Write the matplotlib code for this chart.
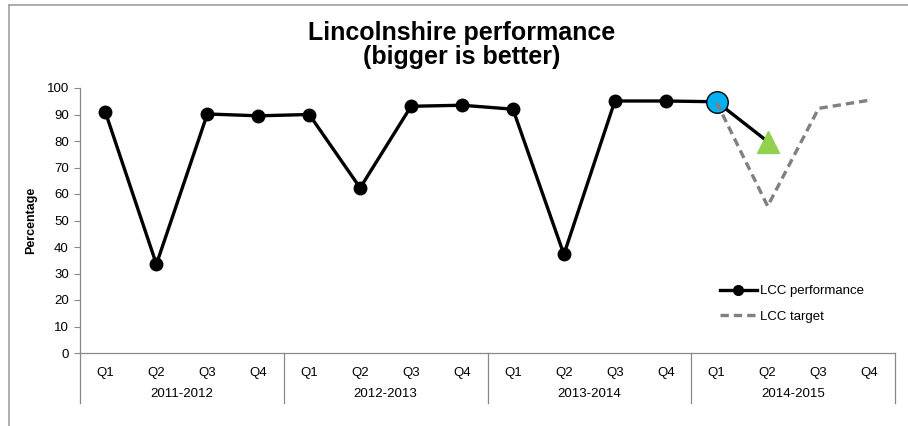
import matplotlib
matplotlib.use("Agg")
import matplotlib.pyplot as plt
from matplotlib.lines import Line2D

plt.rcParams['font.family'] = ['Liberation Sans', 'DejaVu Sans']

# data
years = ['2011-2012', '2012-2013', '2013-2014', '2014-2015']
quarters = ['Q1', 'Q2', 'Q3', 'Q4']
performance = [90.8, 33.5, 90.2, 89.5, 90.0, 62.3, 93.1, 93.5,
               92.0, 37.2, 95.1, 95.1, 94.8, 79.8]
target_start = 12  # target line begins at 2014-2015 Q1
target = [94.5, 55.4, 92.3, 95.4]

W, H = 908, 426
fig = plt.figure(figsize=(W / 100, H / 100), dpi=100)
ax = fig.add_axes([80 / W, (H - 353) / H, (895 - 80) / W, (353 - 88) / H])

ncat = len(years) * len(quarters)
xs = [i + 0.5 for i in range(ncat)]
dash = (0, (2.5, 1.5))

# performance line
perf_x = xs[:len(performance)]
ax.plot(perf_x, performance, color='black', lw=2.4, zorder=3, solid_joinstyle='round')
ax.plot(perf_x[:-2], performance[:-2], ls='none', marker='o', ms=9,
        color='black', zorder=4)
ax.plot(perf_x[-2], performance[-2], ls='none', marker='o', ms=15.5,
        mfc='#00B0F0', mec='black', mew=1.0, zorder=5)
ax.plot(perf_x[-1], performance[-1], ls='none', marker='^', ms=16,
        mfc='#92D050', mec='#92D050', zorder=5)

# target line
tx = xs[target_start:target_start + len(target)]
ax.plot(tx, target, color='#808080', lw=2.4, ls=dash, zorder=6)

ax.set_xlim(0, ncat)
ax.set_ylim(0, 100)
ax.set_yticks(range(0, 101, 10))
ax.tick_params(axis='y', length=4, width=0.8, color='#888888', labelsize=9.5, pad=4)
ax.set_xticks([])

for side in ['top', 'right']:
    ax.spines[side].set_visible(False)
for side in ['left', 'bottom']:
    ax.spines[side].set_color('#888888')
    ax.spines[side].set_linewidth(0.9)

# multi-level category axis
trans = ax.get_xaxis_transform()
drop = 50 / (353 - 88)
for k in range(len(years) + 1):
    xk = k * len(quarters)
    ax.plot([xk, xk], [0, -drop], transform=trans, color='#888888', lw=0.9,
            clip_on=False)
for i, x in enumerate(xs):
    ax.text(x, -20 / 265, quarters[i % 4], transform=trans, ha='center',
            va='center', fontsize=9.5)
for k, yr in enumerate(years):
    ax.text(k * 4 + 2, -41 / 265, yr, transform=trans, ha='center',
            va='center', fontsize=9.5)

ax.set_ylabel('Percentage', fontsize=9, fontweight='bold', labelpad=7)

fig.text(462 / W, 1 - 33 / H, 'Lincolnshire performance', ha='center',
         va='center', fontsize=18, fontweight='bold')
fig.text(462 / W, 1 - 57 / H, '(bigger is better)', ha='center',
         va='center', fontsize=18, fontweight='bold')

handles = [Line2D([], [], color='black', lw=2.4, marker='o', ms=7),
           Line2D([], [], color='#808080', lw=2.4, ls=dash)]
ax.legend(handles, ['LCC performance', 'LCC target'], loc='lower right',
          bbox_to_anchor=(0.976, 0.07), frameon=False, fontsize=9.5,
          handlelength=2.8, handletextpad=0.2, labelspacing=1.0)

# chart border (clipped excel chart area)
fig.add_artist(Line2D([8.5 / W, 8.5 / W], [0, 1 - 4.5 / H], color='#a0a0a0',
                      lw=1.2, transform=fig.transFigure))
fig.add_artist(Line2D([8.5 / W, 1], [1 - 4.5 / H, 1 - 4.5 / H], color='#a0a0a0',
                      lw=1.2, transform=fig.transFigure))

fig.savefig('out.png', dpi=100)
